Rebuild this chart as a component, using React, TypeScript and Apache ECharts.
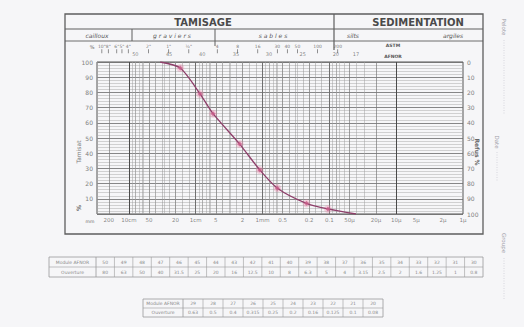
import React, { useEffect, useRef } from 'react';
import * as echarts from 'echarts';

// Grain size curve (size in mm, % passing)
const sieveSizes = [34, 17, 8.6, 5.5, 2.2, 1.1, 0.6, 0.22, 0.105, 0.04];
const passing = [100, 96, 79, 66, 46, 29, 17, 7, 3.3, 0];
const markedPoint = [false, true, true, true, true, true, true, true, true, false];

// bottom axis labels
const bottomLabelValues = [200, 100, 50, 20, 10, 5, 2, 1, 0.5, 0.2, 0.1, 0.05, 0.02, 0.01, 0.005, 0.002, 0.001];
const bottomLabels = ['200', '10cm', '50', '20', '1cm', '5', '2', '1mm', '0.5', '0.2', '0.1', '50µ', '20µ', '10µ', '5µ', '2µ', '1µ'];

// AFNOR module labels above grid
const moduleTopValues = [80, 25, 8, 2.5, 0.8, 0.25, 0.08, 0.04];
const moduleTopLabels = ['50', '45', '40', '35', '30', '25', '20', '17'];

// ASTM sieve labels
const astmValues = [254, 203, 152, 127, 102, 50.8, 25.4, 12.7, 4.75, 2.36, 1.18, 0.6, 0.425, 0.3, 0.15, 0.075];
const astmLabels = ['10"', '8"', '6"', '5"', '4"', '2"', '1"', '½"', '4', '8', '16', '30', '40', '50', '100', '200'];

// tables
const table1Modules = [50, 49, 48, 47, 46, 45, 44, 43, 42, 41, 40, 39, 38, 37, 36, 35, 34, 33, 32, 31, 30];
const table1Apertures = ['80', '63', '50', '40', '31.5', '25', '20', '16', '12.5', '10', '8', '6.3', '5', '4', '3.15', '2.5', '2', '1.6', '1.25', '1', '0.8'];
const table2Modules = [29, 28, 27, 26, 25, 24, 23, 22, 21, 20];
const table2Apertures = ['0.63', '0.5', '0.4', '0.315', '0.25', '0.2', '0.16', '0.125', '0.1', '0.08'];

// grid multipliers & decades (styling)
const decades = [-3, -2, -1, 0, 1, 2];
const multipliers = [1, 2, 3, 4, 5, 6, 7, 8, 9];
const afnorApertures = [80, 63, 50, 40, 31.5, 25, 20, 16, 12.5, 10, 8, 6.3, 5, 4, 3.15, 2.5, 2, 1.6, 1.25, 1, 0.8, 0.63, 0.5, 0.4, 0.315, 0.25, 0.2, 0.16, 0.125, 0.1, 0.08];

const X_MIN = 0.001;
const X_MAX = 300;

function buildTable(x0: number, y0: number, labelW: number, cellW: number, rowH: number, labels: string[], row1: (string | number)[], row2: (string | number)[]) {
  const els: any[] = [];
  const n = row1.length;
  const totalW = labelW + n * cellW;
  const stroke = '#9a9a9a';
  els.push({ type: 'rect', shape: { x: x0, y: y0, width: totalW, height: rowH * 2 }, style: { fill: 'none', stroke, lineWidth: 0.8 } });
  els.push({ type: 'line', shape: { x1: x0, y1: y0 + rowH, x2: x0 + totalW, y2: y0 + rowH }, style: { stroke, lineWidth: 0.6 } });
  els.push({ type: 'line', shape: { x1: x0 + labelW, y1: y0, x2: x0 + labelW, y2: y0 + rowH * 2 }, style: { stroke, lineWidth: 0.8 } });
  for (let i = 1; i < n; i++) {
    const x = x0 + labelW + i * cellW;
    els.push({ type: 'line', shape: { x1: x, y1: y0, x2: x, y2: y0 + rowH * 2 }, style: { stroke, lineWidth: 0.6 } });
  }
  const ts = { fill: '#8a8a8a', fontSize: 4.5, fontFamily: 'DejaVu Sans', align: 'center', verticalAlign: 'middle' };
  els.push({ type: 'text', x: x0 + labelW / 2, y: y0 + rowH / 2, style: { ...ts, text: labels[0] } });
  els.push({ type: 'text', x: x0 + labelW / 2, y: y0 + rowH * 1.5, style: { ...ts, text: labels[1] } });
  for (let i = 0; i < n; i++) {
    const cx = x0 + labelW + (i + 0.5) * cellW;
    els.push({ type: 'text', x: cx, y: y0 + rowH / 2, style: { ...ts, text: String(row1[i]) } });
    els.push({ type: 'text', x: cx, y: y0 + rowH * 1.5, style: { ...ts, text: String(row2[i]) } });
  }
  return els;
}

export default function App() {
  const ref = useRef<HTMLDivElement>(null);
  useEffect(() => {
    if (!ref.current) return;
    const chart = echarts.init(ref.current, undefined, { renderer: 'svg' });

    const vLines: any[] = [];
    decades.forEach((d) => {
      multipliers.forEach((m) => {
        const v = m * Math.pow(10, d);
        if (v < X_MIN - 1e-12 || v > X_MAX) return;
        let color = '#a0a0a0';
        let width = 0.5;
        if (m === 1) { color = '#4a4a4a'; width = 1; }
        else if (m === 2 || m === 5) { color = '#7a7a7a'; width = 0.7; }
        vLines.push({ xAxis: v, lineStyle: { color, width, type: 'solid' } });
      });
    });
    afnorApertures.forEach((v) => {
      vLines.push({ xAxis: v, lineStyle: { color: '#959595', width: 0.5, type: 'solid' } });
    });

    const frame = '#5e5e5e';
    const hdr = { fill: '#4a4a4a', fontSize: 10, fontWeight: 'bold', fontFamily: 'DejaVu Sans', align: 'center', verticalAlign: 'middle' };
    const sub = { fill: '#555', fontSize: 6, fontStyle: 'italic', fontFamily: 'DejaVu Sans', align: 'center', verticalAlign: 'middle' };
    const graphics: any[] = [
      { type: 'rect', shape: { x: 65, y: 14, width: 418, height: 220 }, style: { fill: 'none', stroke: frame, lineWidth: 1.3 } },
      { type: 'line', shape: { x1: 65, y1: 29, x2: 483, y2: 29 }, style: { stroke: frame, lineWidth: 1 } },
      { type: 'line', shape: { x1: 65, y1: 41, x2: 483, y2: 41 }, style: { stroke: frame, lineWidth: 0.9 } },
      { type: 'line', shape: { x1: 334, y1: 14, x2: 334, y2: 50 }, style: { stroke: frame, lineWidth: 1.2 } },
      { type: 'line', shape: { x1: 132, y1: 29, x2: 132, y2: 41 }, style: { stroke: frame, lineWidth: 1 } },
      { type: 'line', shape: { x1: 215, y1: 29, x2: 215, y2: 46 }, style: { stroke: frame, lineWidth: 1 } },
      { type: 'text', x: 203, y: 22, style: { ...hdr, text: 'TAMISAGE' } },
      { type: 'text', x: 418, y: 22, style: { ...hdr, text: 'SEDIMENTATION' } },
      { type: 'text', x: 97, y: 35.5, style: { ...sub, text: 'cailloux' } },
      { type: 'text', x: 172, y: 35.5, style: { ...sub, text: 'g r a v i e r s' } },
      { type: 'text', x: 273, y: 35.5, style: { ...sub, text: 's a b l e s' } },
      { type: 'text', x: 353, y: 35.5, style: { ...sub, text: 'silts' } },
      { type: 'text', x: 453, y: 35.5, style: { ...sub, text: 'argiles' } },
      { type: 'text', x: 393, y: 45, style: { text: 'ASTM', fill: '#555', fontSize: 4.5, fontWeight: 'bold', fontFamily: 'DejaVu Sans', align: 'center', verticalAlign: 'middle' } },
      { type: 'text', x: 393, y: 56, style: { text: 'AFNOR', fill: '#555', fontSize: 4.5, fontWeight: 'bold', fontFamily: 'DejaVu Sans', align: 'center', verticalAlign: 'middle' } },
      { type: 'text', x: 78, y: 152, rotation: Math.PI / 2, style: { text: 'Tamisat', fill: '#777', fontSize: 6, fontFamily: 'DejaVu Sans', align: 'center', verticalAlign: 'middle' } },
      { type: 'text', x: 477, y: 152, rotation: -Math.PI / 2, style: { text: 'Refus %', fill: '#666', fontSize: 6, fontWeight: 'bold', fontFamily: 'DejaVu Sans', align: 'center', verticalAlign: 'middle' } },
      { type: 'text', x: 78, y: 208, rotation: Math.PI / 2, style: { text: '%', fill: '#666', fontSize: 6, fontWeight: 'bold', fontFamily: 'DejaVu Sans', align: 'center', verticalAlign: 'middle' } },
      { type: 'text', x: 92, y: 47, style: { text: '%', fill: '#666', fontSize: 5, fontFamily: 'DejaVu Sans', align: 'center', verticalAlign: 'middle' } },
      { type: 'text', x: 90, y: 221, style: { text: 'mm', fill: '#666', fontSize: 4.5, fontFamily: 'DejaVu Sans', align: 'center', verticalAlign: 'middle' } },
      // right side vertical fields
      { type: 'text', x: 504, y: 27, rotation: -Math.PI / 2, style: { text: 'Pelote', fill: '#a0a0a8', fontSize: 5.5, fontFamily: 'DejaVu Sans', align: 'center', verticalAlign: 'middle' } },
      { type: 'line', shape: { x1: 504, y1: 40, x2: 504, y2: 115 }, style: { stroke: '#c4c4cc', lineWidth: 0.6, lineDash: [1, 1.5] } },
      { type: 'text', x: 497, y: 142, rotation: -Math.PI / 2, style: { text: 'Date', fill: '#a0a0a8', fontSize: 5.5, fontFamily: 'DejaVu Sans', align: 'center', verticalAlign: 'middle' } },
      { type: 'line', shape: { x1: 497, y1: 152, x2: 497, y2: 182 }, style: { stroke: '#c4c4cc', lineWidth: 0.6, lineDash: [1, 1.5] } },
      { type: 'text', x: 504, y: 243, rotation: -Math.PI / 2, style: { text: 'Groupe', fill: '#a0a0a8', fontSize: 5.5, fontFamily: 'DejaVu Sans', align: 'center', verticalAlign: 'middle' } },
      { type: 'line', shape: { x1: 504, y1: 258, x2: 504, y2: 300 }, style: { stroke: '#c4c4cc', lineWidth: 0.6, lineDash: [1, 1.5] } },
      ...buildTable(49, 257, 47, (483 - 96) / 21, 10, ['Module AFNOR', 'Ouverture'], table1Modules, table1Apertures),
      ...buildTable(143, 299, 40, 20, 9, ['Module AFNOR', 'Ouverture'], table2Modules, table2Apertures),
    ];

    const smallLabel = (fontSize: number, color: string) => ({
      show: true,
      position: 'inside' as const,
      fontSize,
      color,
      fontFamily: 'DejaVu Sans',
    });

    const markerData: number[][] = [];
    sieveSizes.forEach((s, i) => {
      if (markedPoint[i]) markerData.push([s, passing[i]]);
    });

    chart.setOption({
      animation: false,
      backgroundColor: '#f6f6f8',
      grid: { left: 97, right: 61, top: 62, bottom: 113, show: true, borderColor: '#555', borderWidth: 1, backgroundColor: 'transparent' },
      xAxis: {
        type: 'log',
        logBase: 10,
        inverse: true,
        min: X_MIN,
        max: X_MAX,
        axisLabel: { show: false },
        axisTick: { show: false },
        axisLine: { show: false },
        splitLine: { show: false },
      },
      yAxis: [
        {
          type: 'value', min: 0, max: 100, interval: 10,
          axisLine: { show: false }, axisTick: { show: false },
          axisLabel: { fontSize: 6, color: '#808080', margin: 4, fontFamily: 'DejaVu Sans', formatter: (v: number) => (v === 0 ? '' : String(v)) },
          splitLine: { show: true, lineStyle: { color: '#6a6a6a', width: 0.8 } },
          minorTick: { show: false, splitNumber: 5 },
          minorSplitLine: { show: true, lineStyle: { color: '#aaaaaa', width: 0.5 } },
        },
        {
          type: 'value', min: 0, max: 100, interval: 10, inverse: true, position: 'right',
          axisLine: { show: false }, axisTick: { show: false },
          axisLabel: { fontSize: 6, color: '#808080', margin: 4, fontFamily: 'DejaVu Sans' },
          splitLine: { show: false },
        },
      ],
      series: [
        {
          type: 'scatter',
          name: 'bottomLabels',
          clip: false,
          silent: true,
          symbolSize: 0,
          data: bottomLabelValues.map((v) => [v, -4]),
          label: { ...smallLabel(5.5, '#666'), formatter: (p: any) => bottomLabels[p.dataIndex] },
          markLine: { silent: true, symbol: ['none', 'none'], label: { show: false }, data: vLines, z: 1 },
          z: 1,
        },
        {
          type: 'scatter',
          name: 'modules',
          clip: false,
          silent: true,
          symbolSize: 0,
          data: moduleTopValues.map((v) => [v, 105]),
          label: { ...smallLabel(5, '#666'), formatter: (p: any) => moduleTopLabels[p.dataIndex] },
        },
        {
          type: 'scatter',
          name: 'astm',
          clip: false,
          silent: true,
          symbolSize: 0,
          data: astmValues.map((v) => [v, 110.5]),
          label: { ...smallLabel(4.5, '#555'), formatter: (p: any) => astmLabels[p.dataIndex] },
        },
        {
          type: 'scatter',
          name: 'astmTicks',
          clip: false,
          silent: true,
          symbol: 'rect',
          symbolSize: [0.8, 4],
          itemStyle: { color: '#555' },
          data: astmValues.map((v) => [v, 107]),
        },
        {
          type: 'scatter',
          name: 'halo',
          z: 4,
          silent: true,
          symbol: 'circle',
          symbolSize: 8,
          itemStyle: { color: 'rgba(235,140,175,0.45)' },
          data: markerData,
        },
        {
          type: 'line',
          name: 'courbe',
          smooth: 0.25,
          z: 5,
          showSymbol: false,
          data: sieveSizes.map((s, i) => [s, passing[i]]),
          lineStyle: { color: '#8e3f6a', width: 1.3 },
        },
        {
          type: 'scatter',
          name: 'points',
          z: 6,
          silent: true,
          symbol: 'diamond',
          symbolSize: [5, 5],
          itemStyle: { color: '#c95c8a' },
          data: markerData,
        },
      ],
      graphic: graphics,
    });
    return () => chart.dispose();
  }, []);
  return <div ref={ref} style={{ position: 'absolute', left: 0, top: 0, width: 524, height: 327 }} />;
}
